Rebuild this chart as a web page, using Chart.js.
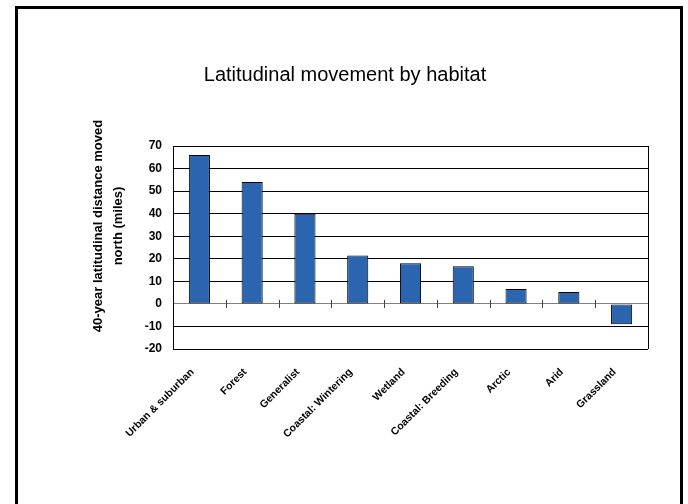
<!DOCTYPE html>
<html>
<head>
<meta charset="utf-8">
<script src="https://cdn.jsdelivr.net/npm/chart.js@4"></script>
<style>
  body { margin: 0; background: #fff; }
  canvas { display: block; }
</style>
</head>
<body>
<canvas id="myChart" width="688" height="504"></canvas>
<script>
// habitat categories and 40-year northward shift (miles)
var habitats = ['Urban & suburban', 'Forest', 'Generalist', 'Coastal: Wintering', 'Wetland',
                'Coastal: Breeding', 'Arctic', 'Arid', 'Grassland'];
var milesMoved = [66, 54, 40, 21.5, 18, 16.7, 6.6, 5.3, -9];

var yMin = -20;
var yMax = 70;
var yStep = 10;

var chartTitle = 'Latitudinal movement by habitat';
var yTitleLines = ['40-year latitudinal distance moved', 'north (miles)'];

var fontName = '"Liberation Sans", Arial, sans-serif';

// frame, titles, little tick marks on the zero line
var decorations = {
    id: 'decorations',
    afterDraw: function (chart) {
        var ctx = chart.ctx;
        var area = chart.chartArea;
        var x = chart.scales.x;
        var y = chart.scales.y;
        ctx.save();

        // outer frame (bottom edge runs off the picture)
        ctx.strokeStyle = '#000';
        ctx.lineWidth = 3;
        ctx.strokeRect(16.5, 7.5, 665, 520);

        // plot right border
        ctx.lineWidth = 1;
        ctx.beginPath();
        ctx.moveTo(Math.round(area.right) + 0.5, area.top);
        ctx.lineTo(Math.round(area.right) + 0.5, area.bottom);
        ctx.stroke();

        // tick marks between categories on the zero line
        var zeroY = y.getPixelForValue(0);
        ctx.strokeStyle = '#404040';
        for (var i = 0; i < habitats.length - 1; i++) {
            var px = Math.round((x.getPixelForValue(i) + x.getPixelForValue(i + 1)) / 2) + 0.5;
            ctx.beginPath();
            ctx.moveTo(px, zeroY - 4);
            ctx.lineTo(px, zeroY + 4);
            ctx.stroke();
        }

        // chart title
        ctx.fillStyle = '#000';
        ctx.font = '20px ' + fontName;
        ctx.textAlign = 'center';
        ctx.textBaseline = 'middle';
        ctx.fillText(chartTitle, 345, 75);

        // y axis title, two lines
        ctx.font = 'bold 13px ' + fontName;
        ctx.translate(108, 226);
        ctx.rotate(-Math.PI / 2);
        ctx.fillText(yTitleLines[0], 0, -10);
        ctx.fillText(yTitleLines[1], 0, 10);

        ctx.restore();
    }
};

var ctx = document.getElementById('myChart').getContext('2d');
var chart = new Chart(ctx, {
    type: 'bar',
    data: {
        labels: habitats,
        datasets: [{
            label: 'Miles moved',
            data: milesMoved,
            backgroundColor: '#2B65B0',
            borderColor: '#000',
            borderWidth: 1,
            borderSkipped: false,
            categoryPercentage: 1,
            barPercentage: 0.4
        }]
    },
    options: {
        responsive: false,
        animation: false,
        layout: { padding: { left: 0, top: 146, right: 40, bottom: 0 } },
        plugins: {
            legend: { display: false },
            title: { display: false },
            tooltip: { enabled: false }
        },
        scales: {
            x: {
                grid: { display: false },
                border: { display: false },
                ticks: {
                    color: '#000',
                    font: { family: fontName, size: 10.5, weight: 'bold' },
                    minRotation: 45,
                    maxRotation: 45,
                    padding: 9,
                    labelOffset: -7,
                    autoSkip: false
                },
                afterFit: function (s) { s.height = 155; }
            },
            y: {
                min: yMin,
                max: yMax,
                ticks: {
                    stepSize: yStep,
                    color: '#000',
                    font: { family: fontName, size: 12, weight: 'bold' },
                    padding: 11
                },
                grid: {
                    drawTicks: false,
                    color: function (c) { return c.tick && c.tick.value === 0 ? '#808080' : '#000'; }
                },
                border: { display: true, color: '#000', width: 1 },
                afterFit: function (s) { s.width = 173; }
            }
        }
    },
    plugins: [decorations]
});
</script>
</body>
</html>
